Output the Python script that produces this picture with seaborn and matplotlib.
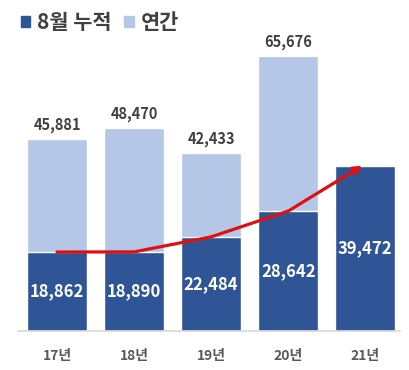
import matplotlib
matplotlib.use("Agg")
import matplotlib.pyplot as plt
from matplotlib.patches import Patch
import seaborn as sns
import numpy as np

years = ["17년", "18년", "19년", "20년", "21년"]
annual = [45881, 48470, 42433, 65676, np.nan]
aug_cum = [18862, 18890, 22484, 28642, 39472]

dark = "#2F5597"
light = "#B4C7E7"
red = "#E01010"
txt = "#404040"

sns.set_theme(style="white")
plt.rcParams["font.family"] = ["Noto Sans CJK KR", "DejaVu Sans"]

fig = plt.figure(figsize=(4.1, 3.7), dpi=100)
ax = fig.add_axes([18 / 410, 39 / 370, 382 / 410, 301 / 370])

sns.barplot(x=years, y=annual, order=years, color=light, width=0.78,
            saturation=1, ax=ax)
sns.barplot(x=years, y=aug_cum, order=years, color=dark, width=0.78,
            saturation=1, ax=ax)

xs = np.arange(len(years))
ax.plot(xs[:-1], aug_cum[:-1], color=red, lw=2.3, solid_capstyle="round",
        solid_joinstyle="round", zorder=5)
ax.annotate("", xy=(xs[-1] - 0.04, aug_cum[-1]), xytext=(xs[-2], aug_cum[-2]),
            arrowprops=dict(arrowstyle="-|>,head_length=0.4,head_width=0.2",
                            color=red, lw=2.3, shrinkA=0, shrinkB=0),
            zorder=5)

for i, v in enumerate(annual):
    if not np.isnan(v):
        ax.text(i, v + 1400, f"{int(v):,}", ha="center", va="bottom",
                fontsize=10.5, fontweight="bold", color=txt)
for i, v in enumerate(aug_cum):
    ax.text(i, v / 2, f"{v:,}", ha="center", va="center",
            fontsize=12, fontweight="bold", color="white", zorder=6)

ax.set_xlim(-0.506, 4.45)
ax.set_ylim(0, 71880)
ax.set_yticks([])
ax.set_ylabel("")
for s in ["left", "right", "top"]:
    ax.spines[s].set_visible(False)
ax.spines["bottom"].set_color("#D9D9D9")
ax.spines["bottom"].set_linewidth(1.2)
ax.tick_params(axis="x", length=0, pad=13, labelsize=10, labelcolor="#595959")
for lab in ax.get_xticklabels():
    lab.set_fontweight("bold")

handles = [Patch(color=dark, label="8월 누적"), Patch(color=light, label="연간")]
fig.legend(handles=handles, loc="upper left", bbox_to_anchor=(0.005, 1.018),
           ncol=2, frameon=False, handlelength=0.45, handleheight=0.45,
           handletextpad=0.35, columnspacing=0.6,
           prop=dict(family=["Noto Sans CJK KR", "DejaVu Sans"],
                     weight="bold", size=15), labelcolor=txt)

fig.savefig("out.png", dpi=100)
